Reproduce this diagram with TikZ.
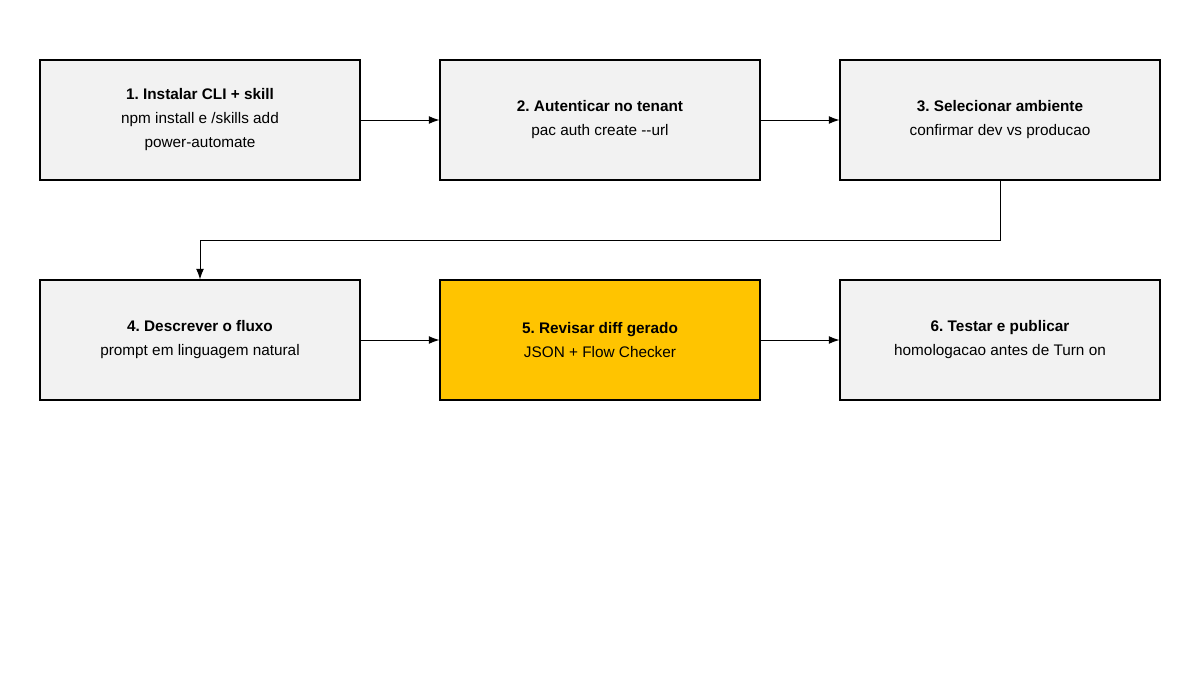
\documentclass[tikz,border=0pt]{standalone}
\usepackage{fontspec}
\setmainfont{Liberation Sans}
\usetikzlibrary{arrows.meta}
\definecolor{boxgray}{HTML}{F2F2F2}
\definecolor{boxgold}{HTML}{FFC400}
\frenchspacing
\tikzset{
  stage/.style={draw=black, line width=0.8pt, fill=boxgray, minimum width=240pt,
    minimum height=90pt, align=center, font=\fontsize{11.5}{18}\selectfont},
  link/.style={line width=0.75pt, -{Latex[length=8pt,width=6pt]}}
}
\begin{document}
\begin{tikzpicture}[x=0.75pt, y=-0.75pt]
    \useasboundingbox (0,0) rectangle (1200,675);
% row one
    \coordinate (p1) at (200,120);
    \coordinate (p2) at (600,120);
    \coordinate (p3) at (1000,120);
% row two
    \coordinate (p4) at (200,340);
    \coordinate (p5) at (600,340);
    \coordinate (p6) at (1000,340);

    \node[stage] (s1) at (p1) {\textbf{1. Instalar CLI + skill}\\npm install e /skills add\\power-automate};
    \node[stage] (s2) at (p2) {\textbf{2. Autenticar no tenant}\\pac auth create -{}-url};
    \node[stage] (s3) at (p3) {\textbf{3. Selecionar ambiente}\\confirmar dev vs producao};
    \node[stage] (s4) at (p4) {\textbf{4. Descrever o fluxo}\\prompt em linguagem natural};
    \node[stage, fill=boxgold] (s5) at (p5) {\textbf{5. Revisar diff gerado}\\JSON + Flow Checker};
    \node[stage] (s6) at (p6) {\textbf{6. Testar e publicar}\\homologacao antes de Turn on};

    \coordinate (bend) at (1000,240);
    \draw[link] (s1) -- (s2);
    \draw[link] (s2) -- (s3);
    \draw[link] (s3.south) -- (bend) -| (s4.north);
    \draw[link] (s4) -- (s5);
    \draw[link] (s5) -- (s6);
\end{tikzpicture}
\end{document}
